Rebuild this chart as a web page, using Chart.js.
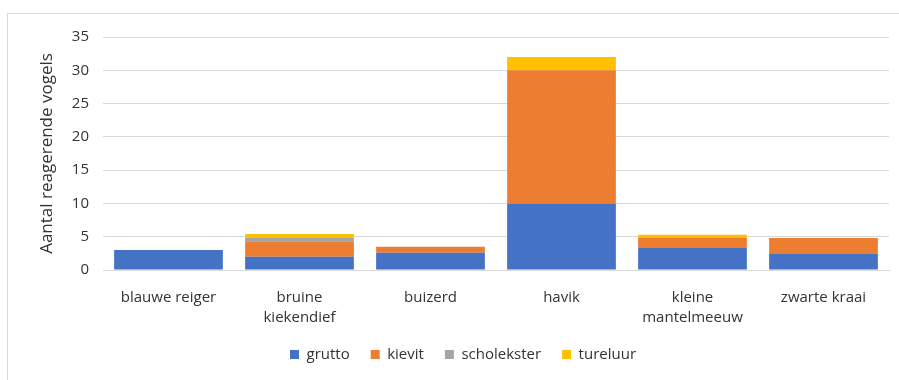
<!DOCTYPE html>
<html lang="nl">
<head>
  <meta charset="UTF-8">
  <title>Aantal reagerende vogels</title>
  <script src="https://cdn.jsdelivr.net/npm/chart.js"></script>
  <style>
    html, body {
      margin: 0;
      background: #fff;
      overflow: hidden;
    }
    #frame {
      position: absolute;
      left: 7px;
      top: 13px;
      width: 900px;
      height: 400px;
      border: 1px solid #d9d9d9;
    }
    #wrap {
      position: absolute;
      left: 0;
      top: 0;
      width: 899px;
      height: 380px;
    }
  </style>
</head>
<body>
<div id="frame"></div>
<div id="wrap"><canvas id="vogels"></canvas></div>

<script>
// categorieën (predatoren)
const categories = [
  'blauwe reiger',
  ['bruine', 'kiekendief'],
  'buizerd',
  'havik',
  ['kleine', 'mantelmeeuw'],
  'zwarte kraai'
];

// aantallen per soort
const grutto     = [3, 2, 2.6, 10, 3.3, 2.4];
const kievit     = [0, 2.3, 0.9, 20, 1.6, 2.4];
const scholekster= [0, 0.5, 0, 0, 0, 0];
const tureluur   = [0, 0.6, 0, 2, 0.4, 0];

const yTicks = { min: 0, max: 35, step: 5 };

const textColor = '#333333';
const fontFam = '"Open Sans", "Liberation Sans", sans-serif';

new Chart(document.getElementById('vogels'), {
  type: 'bar',
  data: {
    labels: categories,
    datasets: [
      { label: 'grutto', data: grutto, backgroundColor: '#4472C4' },
      { label: 'kievit', data: kievit, backgroundColor: '#ED7D31' },
      { label: 'scholekster', data: scholekster, backgroundColor: '#A5A5A5' },
      { label: 'tureluur', data: tureluur, backgroundColor: '#FFC000' }
    ]
  },
  options: {
    responsive: true,
    maintainAspectRatio: false,
    animation: false,
    datasets: { bar: { barPercentage: 0.83, categoryPercentage: 1 } },
    layout: { padding: { left: 37, right: 10, top: 37, bottom: 8 } },
    plugins: {
      legend: {
        position: 'bottom',
        labels: {
          color: textColor,
          font: { family: fontFam, size: 15 },
          boxWidth: 9,
          boxHeight: 9,
          padding: 21
        }
      },
      tooltip: { enabled: false }
    },
    scales: {
      x: {
        stacked: true,
        grid: { display: false },
        border: { color: '#d9d9d9' },
        ticks: {
          color: textColor,
          font: { family: fontFam, size: 15, lineHeight: 1.3 },
          maxRotation: 0,
          padding: 10
        },
        afterFit: s => { s.height = 56; }
      },
      y: {
        stacked: true,
        min: yTicks.min,
        max: yTicks.max,
        ticks: {
          stepSize: yTicks.step,
          color: textColor,
          font: { family: fontFam, size: 15 },
          padding: 14
        },
        grid: { color: '#d9d9d9', drawTicks: false },
        border: { display: false },
        title: {
          display: true,
          text: 'Aantal reagerende vogels',
          color: textColor,
          font: { family: fontFam, size: 17 },
          padding: 0
        },
        afterFit: s => { s.width = 66; }
      }
    }
  }
});
</script>
</body>
</html>
